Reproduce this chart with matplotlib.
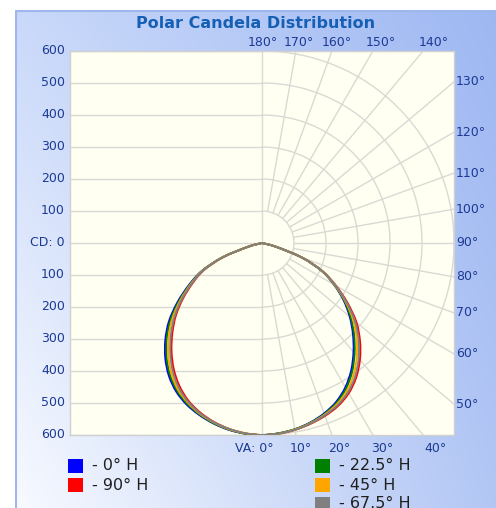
import numpy as np
import matplotlib
matplotlib.use("Agg")
import matplotlib.pyplot as plt
from matplotlib.patches import Rectangle, PathPatch
from matplotlib.path import Path

W, H = 496, 508

# vertical angles (deg from nadir) and candela values per horizontal plane
va_angles = [0, 5, 10, 15, 20, 25, 30, 35, 40, 45, 50, 55, 60, 65, 70, 75, 80, 85, 90]

h0_left = [600, 598, 593, 584, 572, 557, 536, 507, 470, 427, 379, 322, 264, 208, 133, 45, 0, 0, 0]
h0_right = [600, 597, 591, 581, 567, 548, 521, 486, 445, 402, 358, 311, 260, 205, 131, 44, 0, 0, 0]
h22_left = [600, 598, 592, 583, 570, 554, 532, 502, 464, 421, 373, 317, 260, 206, 132, 45, 0, 0, 0]
h22_right = [600, 597, 591, 582, 569, 551, 525, 491, 450, 407, 362, 314, 261, 206, 132, 44, 0, 0, 0]
h45_left = [600, 597, 591, 581, 568, 550, 527, 495, 456, 412, 365, 311, 257, 204, 131, 44, 0, 0, 0]
h45_right = [600, 598, 592, 583, 571, 555, 532, 500, 461, 418, 371, 318, 263, 207, 133, 45, 0, 0, 0]
h67_left = [600, 597, 590, 580, 566, 547, 521, 487, 446, 402, 356, 305, 253, 202, 129, 43, 0, 0, 0]
h67_right = [600, 598, 593, 584, 573, 559, 538, 508, 470, 427, 379, 322, 265, 208, 133, 45, 0, 0, 0]
h90_left = [600, 597, 590, 579, 564, 544, 516, 481, 440, 396, 351, 301, 250, 200, 128, 43, 0, 0, 0]
h90_right = [600, 598, 593, 585, 575, 562, 542, 513, 476, 433, 385, 326, 267, 209, 134, 45, 0, 0, 0]

series_labels = ["- 0° H", "- 90° H", "- 22.5° H", "- 45° H", "- 67.5° H"]
series_colors = ["#0000ff", "#ff0000", "#008000", "#ffa500", "#808080"]
series_data = [(h0_left, h0_right), (h90_left, h90_right), (h22_left, h22_right),
               (h45_left, h45_right), (h67_left, h67_right)]

cd_ticks = [600, 500, 400, 300, 200, 100, 0, 100, 200, 300, 400, 500, 600]
top_angles = [180, 170, 160, 150, 140]
right_angles = [130, 120, 110, 100, 90, 80, 70, 60, 50]
bottom_angles = [0, 10, 20, 30, 40]

tick_color = "#1c3a94"
grid_color = "#dadad4"


def fx(px):
    return px / W


def fy(py):
    return 1 - py / H


def smooth_path(xs, ys):
    # drop repeated points, then draw a Catmull-Rom curve through the rest
    pts = [(xs[0], ys[0])]
    for x, y in zip(xs[1:], ys[1:]):
        if abs(x - pts[-1][0]) > 1e-6 or abs(y - pts[-1][1]) > 1e-6:
            pts.append((x, y))
    p = np.array(pts)
    ext = np.vstack([p[0], p, p[-1]])
    verts = [p[0]]
    codes = [Path.MOVETO]
    for i in range(1, len(ext) - 2):
        c1 = ext[i] + (ext[i + 1] - ext[i - 1]) / 6
        c2 = ext[i + 1] - (ext[i + 2] - ext[i]) / 6
        verts += [c1, c2, ext[i + 1]]
        codes += [Path.CURVE4] * 3
    return Path(verts, codes)


fig = plt.figure(figsize=(W / 100, H / 100), dpi=100)

# gradient panel behind everything
bg = fig.add_axes([fx(15), 0, fx(W - 15), fy(10)])
bg.set_axis_off()
tl = np.array([0.79, 0.85, 0.98])
tr = np.array([0.62, 0.72, 0.95])
bl = np.array([0.97, 0.98, 1.0])
br = np.array([0.70, 0.78, 0.96])
u = np.linspace(0, 1, 200)[None, :, None]
v = np.linspace(0, 1, 200)[:, None, None]
img = (1 - v) * ((1 - u) * tl + u * tr) + v * ((1 - u) * bl + u * br)
bg.imshow(img, aspect="auto", extent=[0, 1, 0, 1])
bg.plot([0.002, 0.002, 1], [0, 0.998, 0.998], color="#9fb6ec", lw=1.5)
bg.set_xlim(0, 1)
bg.set_ylim(0, 1)

# plot box: 70..454 px wide, 51..435 px tall
ax = fig.add_axes([fx(70), fy(435), fx(384), 384 / H])
ax.set_facecolor("#fffff2")
ax.set_xlim(-600, 600)
ax.set_ylim(-600, 600)
for s in ax.spines.values():
    s.set_color("#d0d0d0")
    s.set_linewidth(1)
ax.set_xticks([])
ax.set_yticks([])

# grid: horizontal lines on the left half, arcs and spokes on the right
for r in range(100, 700, 100):
    ax.plot([-600, 0], [r, r], color=grid_color, lw=1, zorder=1)
    ax.plot([-600, 0], [-r, -r], color=grid_color, lw=1, zorder=1)
ax.plot([-600, 0], [0, 0], color=grid_color, lw=1, zorder=1)
ax.plot([0, 0], [-600, 600], color=grid_color, lw=1, zorder=1)
t = np.radians(np.linspace(0, 180, 361))
for r in range(100, 700, 100):
    ax.plot(r * np.sin(t), -r * np.cos(t), color=grid_color, lw=1, zorder=1)
for a in range(10, 180, 10):
    ar = np.radians(a)
    ax.plot([100 * np.sin(ar), 1000 * np.sin(ar)], [-100 * np.cos(ar), -1000 * np.cos(ar)],
            color=grid_color, lw=1, zorder=1)

# candela curves
va = np.radians(va_angles)
for (left, right), col in zip(series_data, series_colors):
    left = np.array(left, float)
    right = np.array(right, float)
    xs = np.concatenate([-left[::-1] * np.sin(va[::-1]), right * np.sin(va)])
    ys = np.concatenate([-left[::-1] * np.cos(va[::-1]), -right * np.cos(va)])
    ax.add_patch(PathPatch(smooth_path(xs, ys), fill=False, edgecolor=col, lw=1.4,
                           zorder=3, joinstyle="round", capstyle="round"))

# px helpers for the polar box
cx, cy, scale = 262, 243, 192 / 600

# left cd labels
for i, v_ in enumerate(cd_ticks):
    py = 51 + i * 32
    txt = "CD: 0" if v_ == 0 else str(v_)
    fig.text(fx(65), fy(py), txt, ha="right", va="center", fontsize=9, color=tick_color)

for a in top_angles:
    dx = 600 * np.tan(np.radians(180 - a)) * scale
    fig.text(fx(cx + dx * 1.06 + 1), fy(42), f"{a}°", ha="center", va="center",
             fontsize=9, color=tick_color)

for a in right_angles:
    dy = -600 / np.tan(np.radians(a)) * scale
    fig.text(fx(456), fy(cy - dy), f"{a}°", ha="left", va="center",
             fontsize=9, color=tick_color)

for a in bottom_angles:
    if a == 0:
        fig.text(fx(274), fy(449), "VA: 0°", ha="right", va="center",
                 fontsize=9, color=tick_color)
        continue
    dx = 600 * np.tan(np.radians(a)) * scale
    fig.text(fx(cx + dx * 1.06 + 3), fy(449), f"{a}°", ha="center", va="center",
             fontsize=9, color=tick_color)

fig.text(fx(256), fy(23), "Polar Candela Distribution", ha="center", va="center",
         fontsize=11.5, fontweight="bold", color="#1560b5")

# legend
legend_pos = [(68, 459), (68, 478), (315, 459), (315, 478), (315, 497)]
for (lx, ly), lab, col in zip(legend_pos, series_labels, series_colors):
    fig.patches.append(Rectangle((fx(lx), fy(ly + 14)), fx(15), 14 / H,
                                 transform=fig.transFigure, facecolor=col, edgecolor="none"))
    fig.text(fx(lx + 24), fy(ly + 7), lab, ha="left", va="center", fontsize=11.5, color="#202020")

fig.savefig("out.png", dpi=100)
